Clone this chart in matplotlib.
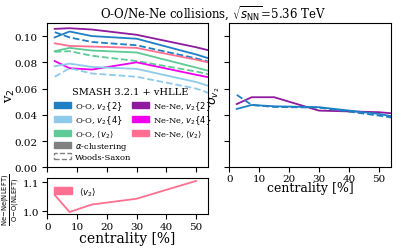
import matplotlib
matplotlib.use("Agg")
import matplotlib.pyplot as plt
from matplotlib.patches import Patch

plt.rcParams["font.family"] = "DejaVu Serif"
plt.rcParams["mathtext.fontset"] = "dejavusans"

# centrality bin centres
cent = [2.5, 7.5, 15, 30, 50, 60]
cent_ratio = [2.5, 7.5, 15, 30, 50]

# v2 values (solid = alpha-clustering, dashed = Woods-Saxon)
oo_v22 = [0.099, 0.1035, 0.100, 0.098, 0.086, 0.079]
oo_v22_ws = [0.103, 0.099, 0.0955, 0.093, 0.083, 0.077]
oo_v24 = [0.077, 0.079, 0.0765, 0.075, 0.065, 0.058]
oo_v24_ws = [0.069, 0.0755, 0.0715, 0.069, 0.060, 0.052]
oo_mean = [0.0885, 0.091, 0.089, 0.0875, 0.076, 0.070]
oo_mean_ws = [0.088, 0.0885, 0.085, 0.081, 0.073, 0.068]
ne_v22 = [0.1055, 0.106, 0.105, 0.101, 0.0915, 0.086]
ne_v24 = [0.081, 0.0755, 0.0745, 0.080, 0.0705, 0.066]
ne_mean = [0.0945, 0.0925, 0.092, 0.091, 0.082, 0.077]

# sigma_v2
sig_oo = [0.0445, 0.0475, 0.0465, 0.0458, 0.0407, 0.0365]
sig_oo_ws = [0.0552, 0.0475, 0.046, 0.0455, 0.0394, 0.036]
sig_ne = [0.0482, 0.0534, 0.0534, 0.0432, 0.042, 0.040]

# ratio Ne-Ne(NLEFT)/O-O(NLEFT)
ratio = [1.056, 0.997, 1.023, 1.043, 1.105]

c_blue = "#1f7fc4"
c_lblue = "#8ecbea"
c_green = "#5ccb95"
c_purple = "#8e1a9e"
c_mag = "#ee00ee"
c_pink = "#ff7090"

fig = plt.figure(figsize=(3.97, 2.51), dpi=100)
ax = fig.add_axes([0.119, 0.3295, 0.405, 0.575])
axr = fig.add_axes([0.119, 0.1434, 0.405, 0.1434])
ax2 = fig.add_axes([0.5776, 0.3295, 0.4066, 0.575])

lw = 1.3
ax.plot(cent, ne_v22, color=c_purple, lw=lw)
ax.plot(cent, oo_v22, color=c_blue, lw=lw)
ax.plot(cent, oo_v22_ws, color=c_blue, lw=lw, ls="--")
ax.plot(cent, ne_mean, color=c_pink, lw=lw)
ax.plot(cent, oo_mean, color=c_green, lw=lw)
ax.plot(cent, oo_mean_ws, color=c_green, lw=lw, ls="--")
ax.plot(cent, ne_v24, color=c_mag, lw=lw)
ax.plot(cent, oo_v24, color=c_lblue, lw=lw)
ax.plot(cent, oo_v24_ws, color=c_lblue, lw=lw, ls="--")

ax.set_xlim(0, 54)
ax.set_ylim(0, 0.11)
ax.set_yticks([0.0, 0.02, 0.04, 0.06, 0.08, 0.10])
ax.set_xticks([0, 10, 20, 30, 40, 50])
ax.set_xticklabels([])
ax.tick_params(labelsize=7.5)
ax.set_ylabel("v$_2$", fontsize=9.5)
ax.yaxis.set_label_coords(-0.19, 0.5)
ax.set_title(r"O-O/Ne-Ne collisions, $\sqrt{s_{\rm NN}}$=5.36 TeV",
             fontsize=8.5, x=1.03, pad=4)

# legend: two columns drawn as two legends, common title as text
leg_kw = dict(fontsize=6.0, frameon=False, handlelength=2.1, handleheight=0.75,
              labelspacing=0.12, handletextpad=0.5, borderpad=0,
              borderaxespad=0, loc="upper left")
col1 = [
    Patch(color=c_blue, label="O-O, $v_2\\{2\\}$"),
    Patch(color=c_lblue, label="O-O, $v_2\\{4\\}$"),
    Patch(color=c_green, label=r"O-O, $\langle v_2\rangle$"),
    Patch(color="gray", label=r"$\alpha$-clustering"),
    Patch(facecolor="none", edgecolor="gray", ls="--", label="Woods-Saxon"),
]
col2 = [
    Patch(color=c_purple, label="Ne-Ne, $v_2\\{2\\}$"),
    Patch(color=c_mag, label="Ne-Ne, $v_2\\{4\\}$"),
    Patch(color=c_pink, label=r"Ne-Ne, $\langle v_2\rangle$"),
]
leg1 = ax.legend(handles=col1, bbox_to_anchor=(0.04, 0.47), **leg_kw)
ax.add_artist(leg1)
ax.legend(handles=col2, bbox_to_anchor=(0.525, 0.47), **leg_kw)
ax.text(0.515, 0.522, "SMASH 3.2.1 + vHLLE", transform=ax.transAxes,
        ha="center", va="center", fontsize=7)

axr.plot(cent_ratio, ratio, color=c_pink, lw=lw)
axr.set_xlim(0, 54)
axr.set_ylim(0.99, 1.115)
axr.set_yticks([1.0, 1.1])
axr.set_yticklabels(["1.0", "1.1"])
axr.set_xticks([0, 10, 20, 30, 40, 50])
axr.tick_params(labelsize=7.5, pad=2)
axr.set_xlabel("centrality [%]", fontsize=10, labelpad=0)
axr.set_ylabel(r"$\frac{\rm Ne{-}Ne(NLEFT)}{\rm O{-}O(NLEFT)}$", fontsize=7)
axr.yaxis.set_label_coords(-0.16, 0.42)
axr.legend(handles=[Patch(color=c_pink, label=r"$\langle v_2\rangle$")],
           loc="upper left", fontsize=6.3, frameon=False,
           handlelength=2.0, handleheight=0.7, borderpad=0.3)

ax2.plot(cent, sig_ne, color=c_purple, lw=lw)
ax2.plot(cent, sig_oo, color=c_blue, lw=lw)
ax2.plot(cent, sig_oo_ws, color=c_blue, lw=lw, ls="--")
ax2.set_xlim(0, 54)
ax2.set_ylim(0, 0.11)
ax2.set_yticks([0.0, 0.02, 0.04, 0.06, 0.08, 0.10])
ax2.set_yticklabels([])
ax2.set_xticks([0, 10, 20, 30, 40, 50])
ax2.tick_params(labelsize=7.5, pad=1)
ax2.set_xlabel("centrality [%]", fontsize=9, labelpad=-1)
ax2.set_ylabel(r"$\sigma_{v_2}$", fontsize=9)
ax2.yaxis.set_label_coords(-0.045, 0.5)

plt.savefig("out.png", dpi=100)
plt.close()
